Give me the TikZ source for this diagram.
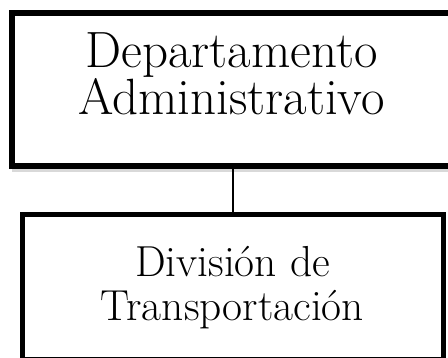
\documentclass[tikz,border=0pt]{standalone}
\usetikzlibrary{positioning}
\usetikzlibrary{shadows}

\begin{document}
\begin{tikzpicture}[x = 1pt, y = 1pt]
\tikzstyle{BoxStyle} = [shape = rectangle, draw, fill = white, line width = 6pt, inner sep = 0pt, outer sep = 0pt]
\tikzstyle{TopText} = [align = center, inner sep = 0pt, font = \fontsize{51}{43}\selectfont]
\tikzstyle{SubText} = [align = center, inner sep = 0pt, font = \fontsize{43.4}{44}\selectfont]
\useasboundingbox (0,0) rectangle (448,358);
\clip (0,0) rectangle (448,358);
\node[BoxStyle, minimum width = 446pt, minimum height = 153.5pt,
      drop shadow = {shadow xshift = 0pt, shadow yshift = -6pt, fill = black!15, opacity = 1}] (depto) at (234.5,268.25) {};
\node[BoxStyle, line width = 5.5pt, minimum width = 421pt, minimum height = 145.5pt] (division) at (233,70.75) {};
\node[TopText] (deptotext) at (231.5,284.5) {Departamento\\Administrativo};
\node[SubText] (divisiontext) at (232.5,70.2) {División de\\Transportación};
\draw[line width = 2pt] (division.north) -- (division.north |- depto.south);
\end{tikzpicture}
\end{document}
